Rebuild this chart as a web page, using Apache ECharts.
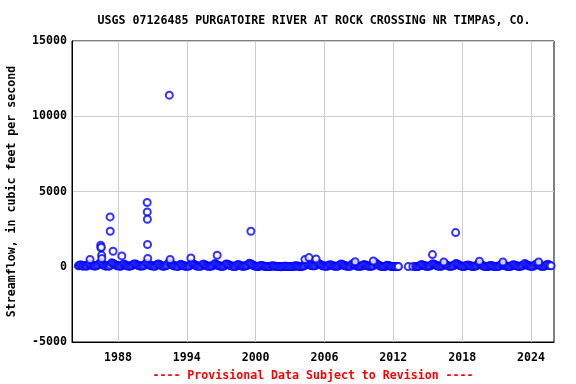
<!DOCTYPE html>
<html>
<head>
<meta charset="utf-8">
<script src="https://cdn.jsdelivr.net/npm/echarts@6/dist/echarts.min.js"></script>
<style>html,body{margin:0;padding:0;background:#fff}#c{width:576px;height:384px}</style>
</head>
<body>
<div id="c"></div>
<script>
// Base-flow band (decimal year, cfs)
var dates = [
1984.55,1984.65,1984.75,1984.85,1984.95,
1985.05,1985.15,1985.25,1985.35,1985.45,1985.55,1985.65,1985.75,1985.85,1985.95,
1986.05,1986.15,1986.25,1986.35,1986.45,1986.55,1986.65,1986.75,1986.85,1986.95,
1987.05,1987.15,1987.25,1987.35,1987.45,1987.55,1987.65,1987.75,1987.85,1987.95,
1988.05,1988.15,1988.25,1988.35,1988.45,1988.55,1988.65,1988.75,1988.85,1988.95,
1989.05,1989.15,1989.25,1989.35,1989.45,1989.55,1989.65,1989.75,1989.85,1989.95,
1990.05,1990.15,1990.25,1990.35,1990.45,1990.55,1990.65,1990.75,1990.85,1990.95,
1991.05,1991.15,1991.25,1991.35,1991.45,1991.55,1991.65,1991.75,1991.85,1991.95,
1992.05,1992.15,1992.25,1992.35,1992.45,1992.55,1992.65,1992.75,1992.85,1992.95,
1993.05,1993.15,1993.25,1993.35,1993.45,1993.55,1993.65,1993.75,1993.85,1993.95,
1994.05,1994.15,1994.25,1994.35,1994.45,1994.55,1994.65,1994.75,1994.85,1994.95,
1995.05,1995.15,1995.25,1995.35,1995.45,1995.55,1995.65,1995.75,1995.85,1995.95,
1996.05,1996.15,1996.25,1996.35,1996.45,1996.55,1996.65,1996.75,1996.85,1996.95,
1997.05,1997.15,1997.25,1997.35,1997.45,1997.55,1997.65,1997.75,1997.85,1997.95,
1998.05,1998.15,1998.25,1998.35,1998.45,1998.55,1998.65,1998.75,1998.85,1998.95,
1999.05,1999.15,1999.25,1999.35,1999.45,1999.55,1999.65,1999.75,1999.85,1999.95,
2000.05,2000.15,2000.25,2000.35,2000.45,2000.55,2000.65,2000.75,2000.85,2000.95,
2001.05,2001.15,2001.25,2001.35,2001.45,2001.55,2001.65,2001.75,2001.85,2001.95,
2002.05,2002.15,2002.25,2002.35,2002.45,2002.55,2002.65,2002.75,2002.85,2002.95,
2003.05,2003.15,2003.25,2003.35,2003.45,2003.55,2003.65,2003.75,2003.85,2003.95,
2004.05,2004.15,2004.25,2004.35,2004.45,2004.55,2004.65,2004.75,2004.85,2004.95,
2005.05,2005.15,2005.25,2005.35,2005.45,2005.55,2005.65,2005.75,2005.85,2005.95,
2006.05,2006.15,2006.25,2006.35,2006.45,2006.55,2006.65,2006.75,2006.85,2006.95,
2007.05,2007.15,2007.25,2007.35,2007.45,2007.55,2007.65,2007.75,2007.85,2007.95,
2008.05,2008.15,2008.25,2008.35,2008.45,2008.55,2008.65,2008.75,2008.85,2008.95,
2009.05,2009.15,2009.25,2009.35,2009.45,2009.55,2009.65,2009.75,2009.85,2009.95,
2010.05,2010.15,2010.25,2010.35,2010.45,2010.55,2010.65,2010.75,2010.85,2010.95,
2011.05,2011.15,2011.25,2011.35,2011.45,2011.55,2011.65,2011.75,2011.85,2011.95,
2012.05,2012.15,2012.25,2012.35,2012.45,
2013.30,2013.70,2013.95,
2014.05,2014.15,2014.25,2014.35,2014.45,2014.55,2014.65,2014.75,2014.85,2014.95,
2015.05,2015.15,2015.25,2015.35,2015.45,2015.55,2015.65,2015.75,2015.85,2015.95,
2016.05,2016.15,2016.25,2016.35,2016.45,2016.55,2016.65,2016.75,2016.85,2016.95,
2017.05,2017.15,2017.25,2017.35,2017.45,2017.55,2017.65,2017.75,2017.85,2017.95,
2018.05,2018.15,2018.25,2018.35,2018.45,2018.55,2018.65,2018.75,2018.85,2018.95,
2019.05,2019.15,2019.25,2019.35,2019.45,2019.55,2019.65,2019.75,2019.85,2019.95,
2020.05,2020.15,2020.25,2020.35,2020.45,2020.55,2020.65,2020.75,2020.85,2020.95,
2021.05,2021.15,2021.25,2021.35,2021.45,2021.55,2021.65,2021.75,2021.85,2021.95,
2022.05,2022.15,2022.25,2022.35,2022.45,2022.55,2022.65,2022.75,2022.85,2022.95,
2023.05,2023.15,2023.25,2023.35,2023.45,2023.55,2023.65,2023.75,2023.85,2023.95,
2024.05,2024.15,2024.25,2024.35,2024.45,2024.55,2024.65,2024.75,2024.85,2024.95,
2025.05,2025.15,2025.25,2025.35,2025.45,2025.55,2025.65,2025.75
];
var flows = [
60,90,140,70,40,
90,60,30,80,160,200,120,90,70,50,
50,80,110,170,240,300,180,120,60,40,
80,50,40,120,260,220,200,140,90,60,
70,40,30,90,150,180,110,80,50,40,
40,60,90,150,200,170,130,90,60,40,
50,60,70,140,220,250,160,110,80,50,
60,40,30,100,170,190,140,90,50,40,
40,60,80,160,280,240,190,120,70,50,
60,40,20,90,160,130,100,70,40,30,
30,50,70,140,230,200,150,100,50,40,
50,40,40,110,180,130,90,60,30,30,
40,50,60,130,210,170,120,80,50,40,
30,40,50,120,190,160,140,90,60,40,
40,30,20,80,150,120,100,60,30,30,
50,60,80,150,240,200,160,110,70,50,
30,20,10,50,90,70,60,40,20,20,
20,15,10,40,70,50,40,25,15,15,
10,8,5,20,40,30,25,15,10,10,
15,12,10,30,60,55,50,30,20,20,
40,50,60,150,250,200,170,120,80,60,
60,70,90,160,220,180,150,100,70,50,
40,35,30,90,140,110,90,60,40,40,
30,40,60,120,180,150,120,80,50,40,
40,35,30,110,200,150,110,70,40,30,
30,40,50,100,150,120,90,60,30,30,
40,50,70,160,260,200,140,90,50,30,
20,15,10,50,100,80,60,40,20,15,
10,10,20,20,15,
10,20,15,
20,25,40,90,150,120,90,60,30,25,
40,50,60,130,200,160,130,90,50,40,
30,40,50,110,180,140,110,70,40,30,
40,55,70,140,210,180,150,100,60,40,
20,25,30,80,120,100,80,50,30,20,
30,45,60,120,190,170,140,90,50,30,
20,15,10,50,80,65,50,35,20,20,
30,35,40,100,160,130,100,70,40,30,
20,25,30,80,130,110,90,60,30,20,
40,50,60,130,210,160,120,80,50,40,
30,40,50,110,180,160,140,90,40,30,
30,40,60,110,170,120,80,60
];
// Higher flows (decimal year, cfs)
var peakDates = [1985.57,1986.50,1986.52,1986.55,1986.58,1986.60,1987.32,1987.33,1987.58,1988.34,
  1990.55,1990.56,1990.57,1990.58,1990.60,1992.48,1992.55,1994.36,1996.65,1999.59,
  2004.30,2004.65,2005.27,2008.67,2010.26,2015.41,2016.40,2017.43,2019.50,2021.55,2024.66];
var peakFlows = [480,1430,1250,1300,765,545,3310,2360,1030,720,
  4270,3640,3156,1475,545,11400,478,585,765,2360,
  480,610,520,330,385,810,320,2270,365,320,320];

var xTicks = [1988,1994,2000,2006,2012,2018,2024];
var yTicks = [-5000,0,5000,10000,15000];

var pts = dates.map(function(d,i){return [d, flows[i]];});
var pk = peakDates.map(function(d,i){return [d, peakFlows[i]];});

var FONT = '"DejaVu Sans Mono", "Liberation Mono", monospace';
var plain = function(v){return String(v);};
var chart = echarts.init(document.getElementById('c'), null, {renderer:'canvas'});
chart.setOption({
  animation:false,
  backgroundColor:'#fff',
  title:[{
    text:'USGS 07126485 PURGATOIRE RIVER AT ROCK CROSSING NR TIMPAS, CO.',
    left:309, top:10, textAlign:'center',
    textStyle:{fontFamily:FONT, fontWeight:'bold', fontSize:11.6, color:'#000'}
  },{
    text:'---- Provisional Data Subject to Revision ----',
    left:308, top:365, textAlign:'center',
    textStyle:{fontFamily:FONT, fontWeight:'bold', fontSize:11.6, color:'#ff0000'}
  }],
  grid:{left:72, right:22, top:41, bottom:42, show:true, borderColor:'#000', borderWidth:1,
        containLabel:false, outerBoundsMode:'none'},
  xAxis:{
    type:'value', min:1984, max:2026,
    axisLine:{show:true, onZero:false, lineStyle:{color:'#000', width:1}},
    axisTick:{show:false, customValues:xTicks},
    axisLabel:{customValues:xTicks, formatter:plain, margin:10, color:'#000', fontFamily:FONT, fontWeight:'bold', fontSize:11.6},
    splitLine:{show:true, lineStyle:{color:'#cccccc', width:1}}
  },
  yAxis:{
    type:'value', min:-5000, max:15000, interval:5000,
    name:'Streamflow, in cubic feet per second',
    nameLocation:'middle', nameGap:54,
    nameTextStyle:{fontFamily:FONT, fontWeight:'bold', fontSize:11.6, color:'#000'},
    axisLine:{show:true, lineStyle:{color:'#000', width:1}},
    axisTick:{show:false},
    axisLabel:{formatter:plain, margin:5, color:'#000', fontFamily:FONT, fontWeight:'bold', fontSize:11.6},
    splitLine:{show:true, lineStyle:{color:'#cccccc', width:1}}
  },
  series:[{
    type:'scatter', data:pts, symbol:'emptyCircle', symbolSize:7,
    itemStyle:{color:'#0000ff', borderColor:'#0000ff', borderWidth:2}
  },{
    type:'scatter', data:pk, symbol:'emptyCircle', symbolSize:7,
    itemStyle:{color:'#0000ff', borderColor:'#0000ff', borderWidth:2}
  }]
});
</script>
</body>
</html>
